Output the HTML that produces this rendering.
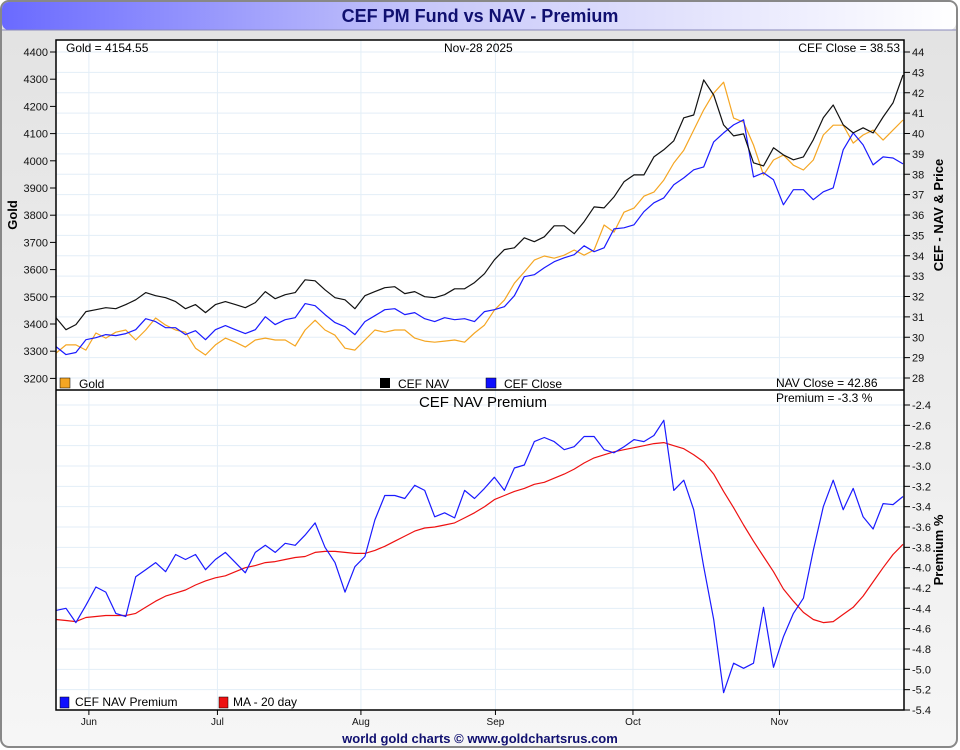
<!DOCTYPE html>
<html><head><meta charset="utf-8"><style>
html,body{margin:0;padding:0;background:#fff;}
svg{display:block;font-family:"Liberation Sans",sans-serif;}
</style></head><body>
<svg id="chart" width="960" height="750" viewBox="0 0 960 750">
<defs>
<linearGradient id="tg" x1="0" x2="1" y1="0" y2="0"><stop offset="0" stop-color="#6a6aff"/><stop offset="0.45" stop-color="#c8c8fa"/><stop offset="1" stop-color="#ffffff"/></linearGradient>
<linearGradient id="bg" x1="0" x2="0" y1="0" y2="1"><stop offset="0" stop-color="#e2e2e2"/><stop offset="1" stop-color="#f6f6f6"/></linearGradient>
</defs>
<rect x="1" y="1" width="956" height="746" rx="8" fill="url(#bg)" stroke="#888" stroke-width="2"/>
<rect x="2" y="2" width="954" height="28" rx="7" fill="url(#tg)"/>
<line x1="2" y1="30" x2="956" y2="30" stroke="#8888bb"/>
<text x="480" y="22" text-anchor="middle" font-size="18" font-weight="bold" fill="#101070">CEF PM Fund vs NAV - Premium</text>
<rect x="56" y="40" width="848" height="670" fill="#fff"/>
<g id="grid"></g>
<g id="series"></g>
<rect x="56" y="40" width="848" height="670" fill="none" stroke="#000" stroke-width="1.5"/>
<line x1="56" y1="390" x2="904" y2="390" stroke="#000" stroke-width="1.5"/>
<g id="axes" font-size="11" fill="#111"></g>
<text x="66" y="52" font-size="12">Gold = 4154.55</text>
<text x="444" y="52" font-size="12">Nov-28  2025</text>
<text x="900" y="52" font-size="12" text-anchor="end">CEF Close = 38.53</text>
<text x="776" y="387" font-size="12">NAV Close = 42.86</text>
<text x="776" y="402" font-size="12">Premium = -3.3 %</text>
<text x="483" y="407" font-size="15" text-anchor="middle">CEF NAV Premium</text>
<g font-size="12">
<rect x="60" y="378" width="10" height="10" fill="#f5a623" stroke="#000" stroke-width="0.5"/>
<text x="79" y="388">Gold</text>
<rect x="380" y="378" width="10" height="10" fill="#000"/>
<text x="398" y="388">CEF NAV</text>
<rect x="486" y="378" width="10" height="10" fill="#1010ff" stroke="#000" stroke-width="0.5"/>
<text x="504" y="388">CEF Close</text>
</g>
<g font-size="12">
<rect x="60" y="697" width="9" height="11" fill="#1010ff" stroke="#000" stroke-width="0.5"/>
<text x="75" y="706">CEF NAV Premium</text>
<rect x="219" y="697" width="9" height="11" fill="#ee1111" stroke="#000" stroke-width="0.5"/>
<text x="233" y="706">MA - 20 day</text>
</g>
<text transform="translate(17,215) rotate(-90)" text-anchor="middle" font-size="13" font-weight="bold">Gold</text>
<text transform="translate(943,215) rotate(-90)" text-anchor="middle" font-size="13" font-weight="bold">CEF - NAV &amp; Price</text>
<text transform="translate(943,550) rotate(-90)" text-anchor="middle" font-size="13" font-weight="bold">Premium %</text>
<text x="480" y="743" text-anchor="middle" font-size="13" font-weight="bold" fill="#101070">world gold charts © www.goldchartsrus.com</text>
</svg>
<script>
const gold=[3293,3323,3323,3304,3367,3348,3370,3378,3341,3378,3422,3396,3378,3370,3311,3286,3323,3348,3333,3315,3341,3348,3341,3341,3319,3378,3414,3378,3359,3311,3304,3341,3378,3370,3378,3378,3348,3337,3333,3337,3341,3333,3367,3396,3451,3488,3550,3591,3635,3650,3642,3653,3672,3653,3672,3764,3738,3811,3826,3870,3885,3929,3992,4039,4113,4187,4249,4289,4157,4142,4058,3948,4003,4021,3984,3966,4003,4095,4131,4131,4065,4095,4113,4076,4113,4150];
const nav=[30.96,30.37,30.62,31.26,31.35,31.45,31.40,31.60,31.84,32.19,32.04,31.94,31.75,31.40,31.60,31.21,31.60,31.75,31.60,31.45,31.70,32.24,31.89,32.09,32.19,32.82,32.77,32.33,31.94,31.84,31.40,32.04,32.24,32.43,32.48,32.14,32.24,31.99,31.94,32.09,32.38,32.38,32.68,33.12,33.80,34.30,34.39,34.88,34.69,34.93,35.47,35.47,35.08,35.67,36.40,36.35,36.89,37.63,37.97,37.97,38.85,39.20,39.64,40.77,40.91,42.63,41.89,40.42,39.88,39.98,38.56,38.41,39.30,38.95,38.71,38.85,39.69,40.77,41.40,40.42,40.03,40.28,40.03,40.81,41.50,42.87];
const close=[29.54,29.15,29.25,29.88,29.98,30.13,30.08,30.18,30.37,30.91,30.77,30.47,30.47,30.13,30.32,29.88,30.37,30.57,30.37,30.18,30.37,31.01,30.62,30.86,30.96,31.65,31.55,31.11,30.72,30.52,30.13,30.77,31.06,31.35,31.40,31.11,31.21,30.91,30.77,30.96,30.86,30.91,30.77,31.26,31.35,31.50,32.04,32.97,33.07,33.41,33.71,33.90,34.05,34.49,34.20,34.39,35.32,35.37,35.52,36.16,36.60,36.84,37.48,37.82,38.22,38.36,39.59,40.03,40.42,40.67,37.87,38.07,37.73,36.50,37.24,37.24,36.75,37.14,37.33,39.20,40.03,39.44,38.46,38.85,38.80,38.51];
const premium=[-4.42,-4.40,-4.54,-4.37,-4.19,-4.24,-4.45,-4.48,-4.09,-4.02,-3.95,-4.04,-3.87,-3.92,-3.87,-4.02,-3.92,-3.85,-3.95,-4.05,-3.85,-3.78,-3.85,-3.76,-3.78,-3.68,-3.56,-3.80,-3.95,-4.24,-3.99,-3.89,-3.53,-3.29,-3.29,-3.32,-3.19,-3.24,-3.50,-3.46,-3.51,-3.24,-3.32,-3.22,-3.11,-3.24,-3.02,-2.99,-2.76,-2.72,-2.76,-2.84,-2.81,-2.71,-2.71,-2.84,-2.87,-2.81,-2.74,-2.76,-2.70,-2.55,-3.24,-3.14,-3.43,-3.99,-4.51,-5.23,-4.94,-4.99,-4.94,-4.39,-4.98,-4.68,-4.45,-4.30,-3.83,-3.40,-3.14,-3.43,-3.22,-3.50,-3.62,-3.37,-3.38,-3.30];
const ma20=[-4.51,-4.52,-4.53,-4.49,-4.48,-4.47,-4.47,-4.47,-4.45,-4.39,-4.33,-4.28,-4.25,-4.22,-4.17,-4.13,-4.10,-4.08,-4.04,-4.00,-3.98,-3.95,-3.94,-3.92,-3.90,-3.89,-3.85,-3.84,-3.84,-3.85,-3.86,-3.86,-3.83,-3.79,-3.74,-3.69,-3.64,-3.61,-3.60,-3.58,-3.56,-3.51,-3.46,-3.40,-3.33,-3.29,-3.25,-3.22,-3.18,-3.16,-3.12,-3.08,-3.03,-2.97,-2.92,-2.89,-2.86,-2.84,-2.82,-2.80,-2.78,-2.77,-2.80,-2.83,-2.89,-2.96,-3.08,-3.25,-3.41,-3.58,-3.74,-3.89,-4.04,-4.21,-4.33,-4.44,-4.51,-4.54,-4.53,-4.46,-4.39,-4.28,-4.14,-4.00,-3.87,-3.77];
const months=["Jun","Jul","Aug","Sep","Oct","Nov"];
const monthIdx=[3.3,16.2,30.6,44.1,57.9,72.6];
const goldTicks=[3200,3300,3400,3500,3600,3700,3800,3900,4000,4100,4200,4300,4400];
const navTicks=[28,29,30,31,32,33,34,35,36,37,38,39,40,41,42,43,44];
const premTicks=[-2.4,-2.6,-2.8,-3.0,-3.2,-3.4,-3.6,-3.8,-4.0,-4.2,-4.4,-4.6,-4.8,-5.0,-5.2,-5.4];

const NS="http://www.w3.org/2000/svg";
const N=gold.length;
const xs=i=>56+i*(847/(N-1));
const yGold=v=>52+(4400-v)*0.272;
const yNav=v=>52+(44-v)*20.375;
const yPrem=v=>405+(-2.4-v)*(305/3);
function mk(tag,attrs,parent){const e=document.createElementNS(NS,tag);for(const k in attrs)e.setAttribute(k,attrs[k]);parent.appendChild(e);return e;}
const grid=document.getElementById('grid'),axes=document.getElementById('axes'),ser=document.getElementById('series');
navTicks.forEach(t=>{const y=yNav(t);
 const l=mk('line',{x1:56,x2:904,y1:y,y2:y,stroke:'#e3eef7'},grid);
 
 
 mk('line',{x1:904,x2:910,y1:y,y2:y,stroke:'#000'},axes);
 const tx=mk('text',{x:912,y:y+4},axes);tx.textContent=t;
 
 });
premTicks.forEach(t=>{const y=yPrem(t);
 if(y>392&&y<709){const l=mk('line',{x1:56,x2:904,y1:y,y2:y,stroke:'#e3eef7'},grid);
 
 }
 mk('line',{x1:904,x2:910,y1:y,y2:y,stroke:'#000'},axes);
 const tx=mk('text',{x:912,y:y+4},axes);tx.textContent=t.toFixed(1);
 
 });
goldTicks.forEach(t=>{const y=yGold(t);
 mk('line',{x1:50,x2:56,y1:y,y2:y,stroke:'#000'},axes);
 const tx=mk('text',{x:48,y:y+4,'text-anchor':'end'},axes);tx.textContent=t;
 
 });
months.forEach((m,k)=>{const x=xs(monthIdx[k]);
 const l=mk('line',{x1:x,x2:x,y1:40,y2:710,stroke:'#e3eef7'},grid);
 
 
 mk('line',{x1:x,x2:x,y1:710,y2:715,stroke:'#000'},axes);
 const tx=mk('text',{x:x,y:725,'text-anchor':'middle','font-size':'10'},axes);tx.textContent=m;
 
 });
function line(arr,fy,color,name){const d=arr.map((v,i)=>(i?'L':'M')+xs(i).toFixed(1)+' '+fy(v).toFixed(1)).join('');
 const p=mk('path',{d:d,fill:'none',stroke:color,'stroke-width':1.2,'stroke-linejoin':'round'},ser);
 
 }
line(gold,yGold,'#f5a623','gold-line');
line(close,yNav,'#1a1aff','cef-close-line');
line(nav,yNav,'#111','cef-nav-line');
line(ma20,yPrem,'#ee1111','ma-20-line');
line(premium,yPrem,'#1a1aff','premium-line');
</script>
</body></html>
